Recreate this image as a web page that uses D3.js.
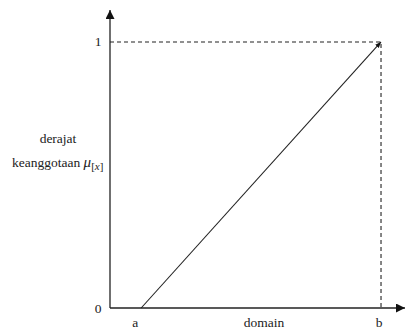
<!DOCTYPE html>
<html>
<head>
<meta charset="utf-8">
<script src="https://cdn.jsdelivr.net/npm/d3@7"></script>
<style>
  html, body { margin: 0; padding: 0; background: #fff; }
  svg { display: block; }
</style>
</head>
<body>
<svg id="chart" width="417" height="330"></svg>
<script>
// Linear membership function: rises from 0 at a to 1 at b
const domainLabels = ["a", "b"];
const domainValues = [0, 1];
const membership = [0, 1];
const yTickLabels = ["0", "1"];
const yTickValues = [0, 1];

const FONT = "'Liberation Serif', 'DejaVu Serif', serif";
const svg = d3.select("#chart");

const x = d3.scaleLinear().domain([-0.13, 1.1]).range([110, 405]);
const y = d3.scaleLinear().domain([0, 1.12]).range([308, 10]);

const defs = svg.append("defs");
defs.append("marker")
  .attr("id", "head")
  .attr("viewBox", "0 0 10 10")
  .attr("refX", 10).attr("refY", 5)
  .attr("markerWidth", 9).attr("markerHeight", 9)
  .attr("markerUnits", "userSpaceOnUse")
  .attr("orient", "auto")
  .append("path").attr("d", "M0,0 L10,5 L0,10 Z").attr("fill", "#111");
defs.append("marker")
  .attr("id", "small")
  .attr("viewBox", "0 0 10 10")
  .attr("refX", 10).attr("refY", 5)
  .attr("markerWidth", 6).attr("markerHeight", 6)
  .attr("markerUnits", "userSpaceOnUse")
  .attr("orient", "auto")
  .append("path").attr("d", "M0,1 L10,5 L0,9 Z").attr("fill", "#111");

// axes with arrowheads
svg.append("line")
  .attr("x1", x(-0.13)).attr("y1", y(0))
  .attr("x2", x(-0.13)).attr("y2", y(1.12))
  .attr("stroke", "#222").attr("stroke-width", 1.3)
  .attr("marker-end", "url(#head)");
svg.append("line")
  .attr("x1", x(-0.13)).attr("y1", y(0))
  .attr("x2", x(1.1)).attr("y2", y(0))
  .attr("stroke", "#222").attr("stroke-width", 1.3)
  .attr("marker-end", "url(#head)");

// dashed guides to the point (b, 1)
const guide = d3.line().x(d => x(d[0])).y(d => y(d[1]));
svg.append("path")
  .attr("d", guide([[-0.13, 1], [domainValues[1], 1], [domainValues[1], 0]]))
  .attr("fill", "none").attr("stroke", "#222").attr("stroke-width", 1.1)
  .attr("stroke-dasharray", "4,3");

// membership line
const pts = domainValues.map((d, i) => [d, membership[i]]);
svg.append("path")
  .attr("d", guide(pts))
  .attr("fill", "none").attr("stroke", "#222").attr("stroke-width", 1.1)
  .attr("marker-end", "url(#small)");

const txt = sel => sel.attr("font-family", FONT).attr("fill", "#222").attr("font-size", 13.5);

// y tick labels
svg.selectAll(".ylab").data(yTickValues).join("text")
  .call(txt)
  .attr("x", 98).attr("y", d => y(d) + 4.5)
  .attr("text-anchor", "middle")
  .text((d, i) => yTickLabels[i]);

// x labels
svg.selectAll(".xlab").data(domainValues).join("text")
  .call(txt)
  .attr("x", (d, i) => x(d) - (i === 0 ? 6 : 2)).attr("y", 327)
  .attr("text-anchor", "middle")
  .text((d, i) => domainLabels[i]);
svg.append("text")
  .call(txt)
  .attr("x", 264).attr("y", 327)
  .attr("text-anchor", "middle")
  .text("domain");

// y axis title
svg.append("text")
  .call(txt)
  .attr("x", 58).attr("y", 143)
  .attr("text-anchor", "middle")
  .text("derajat");
const t = svg.append("text")
  .call(txt)
  .attr("x", 12).attr("y", 167);
t.append("tspan").text("keanggotaan ");
t.append("tspan").attr("font-style", "italic").attr("font-size", 15).text("μ");
t.append("tspan").attr("font-size", 11).attr("dy", 3).text("[");
t.append("tspan").attr("font-size", 11).attr("font-style", "italic").text("x");
t.append("tspan").attr("font-size", 11).text("]");
</script>
</body>
</html>
